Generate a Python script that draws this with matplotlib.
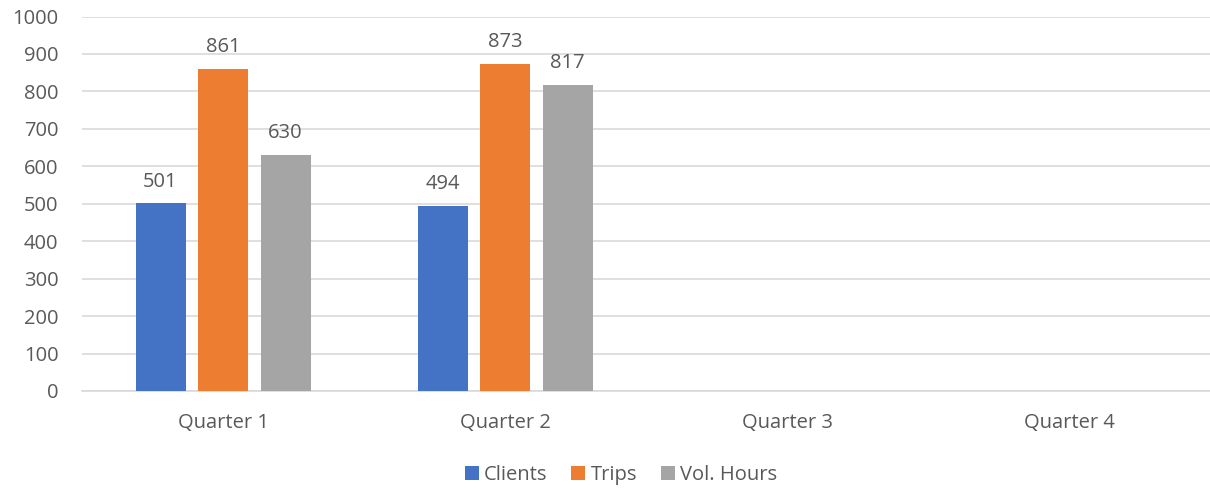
import matplotlib
matplotlib.use("Agg")
import matplotlib.pyplot as plt
import numpy as np

categories = ["Quarter 1", "Quarter 2", "Quarter 3", "Quarter 4"]
series_names = ["Clients", "Trips", "Vol. Hours"]
clients = [501, 494, None, None]
trips = [861, 873, None, None]
vol_hours = [630, 817, None, None]
yticks = [0, 100, 200, 300, 400, 500, 600, 700, 800, 900, 1000]

colors = ["#4472C4", "#ED7D31", "#A5A5A5"]
text_color = "#595959"
plt.rcParams['font.family'] = ['Open Sans', 'DejaVu Sans']
FS = 14.5

fig = plt.figure(figsize=(12.10, 4.93), dpi=100)
ax = fig.add_axes([82/1210, 1-391/493, 1-82/1210, (391-16.5)/493])

x = np.arange(len(categories))
width = 50/282
offsets = [-62.5/282, 0, 62.5/282]
handles = []
for vals, off, col, name in zip([clients, trips, vol_hours], offsets, colors, series_names):
    xs = [xi + off for xi, v in zip(x, vals) if v is not None]
    ys = [v for v in vals if v is not None]
    bars = ax.bar(xs, ys, width=width, color=col, label=name, zorder=3)
    handles.append(bars)
    for b, v in zip(bars, ys):
        ax.annotate(str(v), (b.get_x() + b.get_width()/2, v), xytext=(0, 8.5),
                    textcoords="offset points", ha="center", va="bottom",
                    fontsize=FS, color=text_color)

ax.set_xlim(-0.5, 3.5)
ax.set_ylim(0, 1000)
ax.set_yticks(yticks)
ax.set_xticks(x)
ax.set_xticklabels(categories)
ax.yaxis.grid(True, color="#D9D9D9", linewidth=1.2, zorder=0)
ax.tick_params(axis="both", length=0, labelsize=FS, labelcolor=text_color)
ax.tick_params(axis="x", pad=16)
ax.tick_params(axis="y", pad=17)
for s in ["top", "right", "left"]:
    ax.spines[s].set_visible(False)
ax.spines["bottom"].set_color("#D9D9D9")
ax.spines["bottom"].set_linewidth(1.2)

fig.legend(handles=handles, labels=series_names, loc="center", bbox_to_anchor=(621/1210, 1-475/493),
           ncol=3, frameon=False, fontsize=FS, labelcolor=text_color,
           handlelength=0.7, handleheight=0.7, handletextpad=0.25, columnspacing=1.2)

fig.savefig("out.png", dpi=100)
